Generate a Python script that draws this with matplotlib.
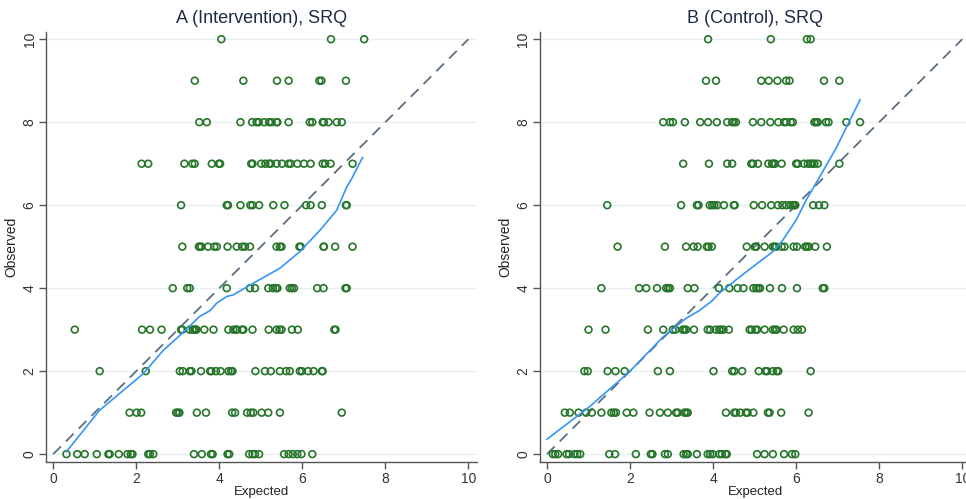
import numpy as np
import matplotlib
matplotlib.use("Agg")
from matplotlib import pyplot as plt

plt.rcParams['font.family'] = ['Liberation Sans', 'DejaVu Sans']

# expected scores for each observed score 0..10, arm A
a_rows = [
    [0.32, 0.58, 0.76, 1.05, 1.33, 1.36, 1.58, 1.79, 1.87, 1.91, 2.29, 2.33, 2.41, 3.39, 3.58,
     3.80, 3.84, 4.20, 4.24, 4.72, 4.80, 4.86, 4.96, 5.56, 5.67, 5.77, 5.88, 5.98, 6.24],
    [1.84, 2.01, 2.12, 2.96, 3.00, 3.04, 3.46, 3.68, 4.31, 4.38, 4.67, 4.76, 4.82, 5.02, 5.18,
     5.46, 6.95],
    [1.12, 2.23, 3.05, 3.12, 3.29, 3.33, 3.56, 3.78, 3.81, 3.92, 4.03, 4.22, 4.28, 4.32, 4.87,
     5.10, 5.24, 5.46, 5.61, 5.70, 5.94, 5.99, 6.14, 6.27, 6.47, 6.49],
    [0.52, 2.14, 2.33, 2.61, 3.08, 3.11, 3.29, 3.36, 3.40, 3.42, 3.45, 3.64, 3.86, 4.22, 4.34,
     4.40, 4.43, 4.55, 4.58, 4.80, 5.19, 5.38, 5.45, 5.50, 5.75, 5.89, 6.77, 6.80],
    [2.88, 3.23, 3.29, 4.18, 4.74, 4.86, 5.18, 5.29, 5.36, 5.40, 5.70, 5.75, 5.80, 6.36, 6.51,
     7.04, 7.07],
    [3.11, 3.51, 3.53, 3.57, 3.73, 3.88, 3.94, 4.20, 4.42, 4.55, 4.62, 4.74, 5.38, 5.46, 5.50,
     5.93, 5.96, 6.51, 6.52, 6.79, 7.21],
    [3.08, 4.18, 4.21, 4.51, 4.75, 4.80, 4.96, 5.30, 5.57, 6.09, 6.20, 6.47, 7.05, 7.07],
    [2.13, 2.29, 3.16, 3.35, 3.41, 3.82, 3.99, 4.02, 4.77, 4.80, 5.01, 5.11, 5.20, 5.24, 5.38,
     5.51, 5.67, 5.72, 5.88, 6.04, 6.20, 6.49, 6.55, 6.68, 7.21],
    [3.52, 3.70, 4.51, 4.79, 4.90, 4.95, 5.08, 5.20, 5.26, 5.38, 5.40, 5.67, 6.18, 6.24, 6.49,
     6.52, 6.63, 6.83, 6.95],
    [3.41, 4.58, 5.39, 5.67, 6.41, 6.46, 7.05],
    [4.05, 6.69, 7.49],
]

# expected scores for each observed score 0..10, arm B
b_rows = [
    [0.14, 0.20, 0.27, 0.47, 0.53, 0.66, 0.73, 0.80, 1.50, 1.64, 2.14, 2.50, 2.54, 2.84, 2.91,
     3.29, 3.35, 3.39, 3.61, 3.87, 3.93, 3.99, 4.15, 4.21, 4.30, 4.33, 5.06, 5.24, 5.44, 5.71,
     5.90, 5.98],
    [0.43, 0.55, 0.76, 0.94, 1.08, 1.31, 1.55, 1.61, 1.66, 1.92, 2.08, 2.47, 2.72, 2.91, 3.11,
     3.15, 3.31, 3.35, 3.39, 4.31, 4.51, 4.55, 4.65, 4.79, 4.83, 4.97, 5.32, 5.36, 5.64, 6.30],
    [0.90, 0.98, 1.46, 1.65, 1.87, 2.67, 2.96, 4.01, 4.46, 4.51, 4.70, 5.10, 5.26, 5.30, 5.44,
     5.53, 5.57, 6.35],
    [1.00, 1.41, 2.43, 2.80, 3.03, 3.09, 3.27, 3.31, 3.35, 3.54, 3.87, 3.93, 4.07, 4.15, 4.19,
     4.25, 4.38, 4.88, 4.93, 5.02, 5.06, 5.24, 5.44, 5.49, 5.53, 5.70, 5.94, 6.04, 6.14],
    [1.31, 2.22, 2.39, 2.65, 2.87, 2.92, 2.96, 3.39, 3.55, 4.14, 4.39, 4.59, 4.73, 4.97, 5.04,
     5.09, 5.13, 5.37, 5.66, 6.02, 6.64, 6.68],
    [1.70, 2.84, 3.35, 3.53, 3.63, 3.85, 3.89, 3.97, 4.81, 5.01, 5.04, 5.24, 5.44, 5.48, 5.52,
     5.65, 5.72, 5.94, 6.02, 6.22, 6.26, 6.31, 6.46, 6.74],
    [1.45, 3.23, 3.61, 3.65, 3.92, 3.98, 4.03, 4.10, 4.26, 4.50, 4.52, 4.98, 5.18, 5.40, 5.56,
     5.67, 5.76, 5.86, 5.92, 5.96, 5.98, 6.41, 6.55, 6.68],
    [3.28, 3.90, 4.34, 4.46, 4.92, 4.96, 5.08, 5.33, 5.42, 5.45, 5.49, 5.65, 6.00, 6.04, 6.19,
     6.28, 6.34, 6.39, 6.44, 6.52, 7.04],
    [2.80, 2.96, 3.03, 3.32, 3.69, 3.88, 4.09, 4.34, 4.46, 4.50, 4.55, 4.96, 5.16, 5.38, 5.57,
     5.71, 5.76, 5.87, 5.92, 6.44, 6.48, 6.52, 6.72, 6.78, 7.21, 7.54],
    [3.83, 4.07, 5.16, 5.34, 5.55, 5.76, 5.84, 6.67, 7.04],
    [3.88, 5.39, 6.26, 6.35],
]

# smoothed observed vs expected
a_smooth_x = [0.32, 1.12, 2.17, 2.65, 3.05, 3.53, 3.78, 3.94, 4.18, 4.34, 4.82, 5.46, 5.94,
              6.43, 6.83, 7.07, 7.19, 7.45]
a_smooth_y = [0.06, 1.06, 1.94, 2.50, 2.86, 3.32, 3.46, 3.64, 3.80, 3.84, 4.12, 4.48, 4.88,
              5.40, 5.88, 6.44, 6.64, 7.15]
b_smooth_x = [0.00, 1.02, 1.98, 2.79, 3.36, 3.67, 3.98, 4.15, 4.55, 4.99, 5.44, 5.68, 6.00,
              6.24, 6.52, 6.96, 7.54]
b_smooth_y = [0.36, 1.14, 1.98, 2.82, 3.28, 3.46, 3.70, 3.88, 4.20, 4.54, 4.88, 5.16, 5.64,
              6.12, 6.60, 7.37, 8.54]

titles = ["A (Intervention), SRQ", "B (Control), SRQ"]
ticks = [0, 2, 4, 6, 8, 10]

fig = plt.figure(figsize=(9.66, 4.99), dpi=100)
positions = [[0.0473, 0.0741, 0.4462, 0.8623], [0.5585, 0.0741, 0.4462, 0.8623]]

panels = [(a_rows, a_smooth_x, a_smooth_y), (b_rows, b_smooth_x, b_smooth_y)]
for pos, title, (rows, sx, sy) in zip(positions, titles, panels):
    ax = fig.add_axes(pos)
    xs = np.concatenate([np.array(r) for r in rows])
    ys = np.concatenate([np.full(len(r), i) for i, r in enumerate(rows)])

    ax.plot([0, 10], [0, 10], color='#5b6f84', lw=1.3, dashes=(6, 4), zorder=2)
    ax.scatter(xs, ys, s=24, facecolors='none', edgecolors='#26752a', linewidths=1.2, zorder=3)
    ax.plot(sx, sy, color='#3596f5', lw=1.2, zorder=4)

    ax.set_xlim(-0.18, 10.2)
    ax.set_ylim(-0.19, 10.18)
    ax.set_xticks(ticks)
    ax.set_yticks(ticks)
    ax.grid(axis='y', color='#e6eef0', lw=0.9, zorder=0)
    ax.set_axisbelow(True)
    for side in ['top', 'right']:
        ax.spines[side].set_visible(False)
    for side in ['left', 'bottom']:
        ax.spines[side].set_color('#555555')
        ax.spines[side].set_linewidth(1.0)
    ax.tick_params(colors='#555555', labelcolor='#333333', length=5, width=1.0, labelsize=10)
    ax.tick_params(axis='x', pad=2)
    ax.tick_params(axis='y', pad=1.5)
    for lab in ax.get_yticklabels():
        lab.set_rotation(90)
        lab.set_va('center')

    ax.set_xlabel("Expected", fontsize=9.5, color='#222222', labelpad=0)
    ax.set_ylabel("Observed", fontsize=10, color='#222222', labelpad=3)
    ax.set_title(title, fontsize=13, color='#1e2b45', pad=6)

fig.savefig("out.png", dpi=100)
